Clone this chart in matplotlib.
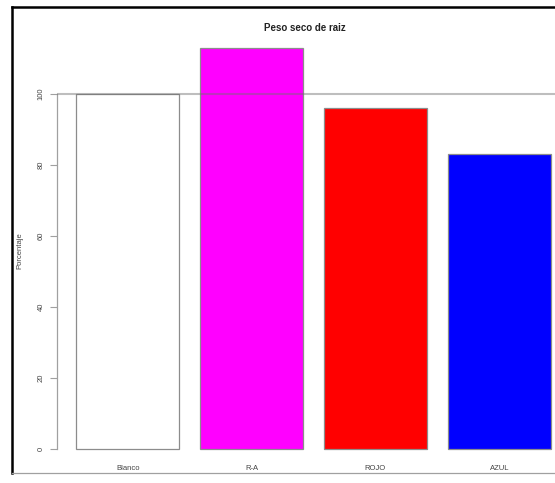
import matplotlib
matplotlib.use("Agg")
import matplotlib.pyplot as plt
from matplotlib.lines import Line2D

categories = ["Blanco", "R-A", "ROJO", "AZUL"]
values = [100, 113, 96, 83]
colors = ["white", "#ff00ff", "#ff0000", "#0000ff"]
yticks = [0, 20, 40, 60, 80, 100]
title = "Peso seco de raiz"
ylabel = "Porcentaje"

plt.rcParams['font.family'] = ['Liberation Sans', 'DejaVu Sans']

W, H = 555, 483
fig = plt.figure(figsize=(W / 100, H / 100), dpi=100)
fig.patch.set_facecolor("white")

# plot region in pixels
left_px, right_px, top_px, bottom_px = 57, 570, 32, 465
ax = fig.add_axes([left_px / W, 1 - bottom_px / H,
                   (right_px - left_px) / W, (bottom_px - top_px) / H])
ax.set_facecolor("none")

centers = [0.7 + 1.2 * i for i in range(len(categories))]
ax.bar(centers, values, width=1.0, color=colors, edgecolor="#8c8c8c",
       linewidth=0.9, zorder=2)
ax.axhline(100, color="#707070", alpha=0.45, linewidth=1.5, zorder=3)

ax.set_xlim(0.016, 4.984)
ax.set_ylim(-4.52, 117.52)

for s in ["top", "right", "bottom"]:
    ax.spines[s].set_visible(False)
ax.spines["left"].set_bounds(0, 100)
ax.spines["left"].set_color("#a0a0a0")
ax.spines["left"].set_linewidth(0.9)
ax.set_yticks(yticks)
ax.set_yticklabels([str(t) for t in yticks], rotation=90, va="center",
                   fontsize=5.5, color="#444444")
ax.tick_params(axis="y", length=5, width=0.8, color="#a0a0a0", pad=4)
ax.set_xticks(centers)
ax.set_xticklabels(categories, fontsize=5.5, color="#444444")
ax.tick_params(axis="x", length=0, pad=0)

fig.text(305 / W, 1 - 28 / H, title, ha="center", va="center",
         fontsize=7, fontweight="bold", color="#222222")
fig.text(20 / W, 1 - 251 / H, ylabel, ha="center", va="center",
         rotation=90, fontsize=5.5, color="#444444")

# screenshot frame
fig.add_artist(Line2D([11.5 / W, 11.5 / W], [1 - 473 / H, 1 - 7 / H],
                      transform=fig.transFigure, color="black", linewidth=1.8))
fig.add_artist(Line2D([11.5 / W, 1], [1 - 7 / H, 1 - 7 / H],
                      transform=fig.transFigure, color="black", linewidth=1.8))
fig.add_artist(Line2D([11.5 / W, 1], [1 - 473 / H, 1 - 473 / H],
                      transform=fig.transFigure, color="#a0a0a0", linewidth=0.9))

fig.savefig("out.png", dpi=100)
